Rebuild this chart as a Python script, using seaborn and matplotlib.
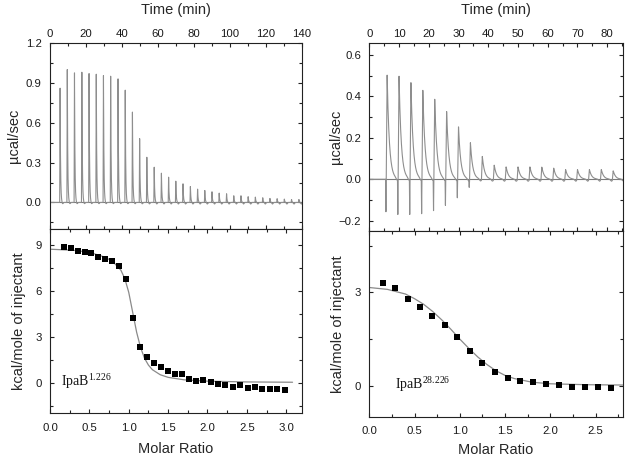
import numpy as np
import pandas as pd
import matplotlib
matplotlib.use("Agg")
import matplotlib.pyplot as plt
from matplotlib.ticker import MultipleLocator
import seaborn as sns

# ---------------- data: left panel (IpaB 1.226) ----------------
left_inj_time = [5.6, 9.6, 13.6, 17.7, 21.7, 25.7, 29.7, 33.7, 37.8, 41.8,
                 45.8, 49.8, 53.8, 57.9, 61.9, 65.9, 69.9, 73.9, 78.0, 82.0,
                 86.0, 90.0, 94.0, 98.1, 102.1, 106.1, 110.1, 114.1, 118.2,
                 122.2, 126.2, 130.2, 134.2, 138.3]
left_peak = [0.86, 1.0, 0.975, 0.98, 0.97, 0.965, 0.955, 0.95, 0.93, 0.845,
             0.68, 0.48, 0.34, 0.265, 0.22, 0.19, 0.16, 0.14, 0.12, 0.10,
             0.09, 0.08, 0.07, 0.065, 0.05, 0.05, 0.043, 0.04, 0.035, 0.03,
             0.028, 0.025, 0.022, 0.022]
left_neg = [0.0] * len(left_peak)

left_ratio = [0.183, 0.264, 0.357, 0.443, 0.523, 0.613, 0.702, 0.787, 0.872,
              0.962, 1.051, 1.14, 1.226, 1.319, 1.409, 1.498, 1.583, 1.677,
              1.766, 1.86, 1.949, 2.043, 2.13, 2.226, 2.32, 2.417, 2.51,
              2.604, 2.698, 2.79, 2.889, 2.987]
left_heat = [8.89, 8.81, 8.61, 8.52, 8.44, 8.20, 8.07, 7.94, 7.61, 6.79,
             4.25, 2.36, 1.65, 1.26, 1.0, 0.76, 0.54, 0.54, 0.24, 0.13,
             0.17, 0.04, -0.09, -0.13, -0.26, -0.17, -0.35, -0.26, -0.43,
             -0.43, -0.43, -0.50]
left_fit_ratio = [0.0, 0.3, 0.5, 0.7, 0.8, 0.9, 0.95, 1.0, 1.05, 1.1, 1.15,
                  1.2, 1.25, 1.3, 1.4, 1.5, 1.7, 2.0, 2.5, 3.08]
left_fit_heat = [8.72, 8.65, 8.52, 8.2, 7.9, 7.35, 6.8, 5.9, 4.6, 3.3, 2.3,
                 1.6, 1.15, 0.85, 0.52, 0.35, 0.19, 0.1, 0.05, 0.03]

# ---------------- data: right panel (IpaB 28.226) ----------------
right_inj_time = [5.6, 9.6, 13.6, 17.6, 21.6, 25.6, 29.6, 33.6, 37.6, 41.6,
                  45.6, 49.6, 53.6, 57.6, 61.6, 65.6, 69.6, 73.6, 77.6, 81.6]
right_peak = [0.503, 0.497, 0.466, 0.429, 0.386, 0.327, 0.253, 0.177, 0.111,
              0.069, 0.061, 0.061, 0.061, 0.06, 0.055, 0.048, 0.048, 0.048,
              0.048, 0.042]
right_neg = [0.157, 0.166, 0.166, 0.162, 0.147, 0.121, 0.084, 0.033, 0.0, 0.0,
             0.0, 0.0, 0.0, 0.0, 0.0, 0.0, 0.0, 0.0, 0.0, 0.0]

right_ratio = [0.147, 0.287, 0.423, 0.556, 0.696, 0.832, 0.968, 1.108, 1.248,
               1.388, 1.528, 1.668, 1.811, 1.951, 2.095, 2.235, 2.378, 2.522,
               2.669]
right_heat = [3.30, 3.14, 2.80, 2.52, 2.24, 1.95, 1.56, 1.13, 0.73, 0.43,
              0.24, 0.16, 0.12, 0.06, 0.01, -0.04, -0.03, -0.03, -0.07]
right_fit_ratio = [0.0, 0.2, 0.4, 0.5, 0.6, 0.7, 0.8, 0.9, 1.0, 1.1, 1.2,
                   1.3, 1.4, 1.5, 1.6, 1.8, 2.0, 2.4, 2.8]
right_fit_heat = [3.16, 3.10, 2.95, 2.80, 2.62, 2.39, 2.12, 1.82, 1.50, 1.20,
                  0.92, 0.68, 0.48, 0.33, 0.23, 0.11, 0.06, 0.03, 0.02]

# ---------------- style ----------------
sns.set_theme(style="ticks")
plt.rcParams["font.family"] = ["Liberation Sans", "DejaVu Sans"]
plt.rcParams["mathtext.fontset"] = "custom"
plt.rcParams["mathtext.rm"] = "Liberation Serif"

TRACE = "#8e8e8e"
ZERO = "#7a7a7a"
SPINE = "#222222"


def trace_frame(times, peaks, negs, t_end, rise, tau, delay, dip):
    """Build the thermogram line from the injection list (peak shape only)."""
    t = np.arange(0.0, t_end, 0.02)
    y = np.zeros_like(t)
    for ti, h, n in zip(times, peaks, negs):
        if n > 0:
            y -= n * np.clip(1 - np.abs(t - ti) / 0.12, 0, None)
        tp = ti + delay
        up = (t >= tp - rise) & (t < tp)
        y[up] += h * (t[up] - (tp - rise)) / rise
        down = t >= tp
        y[down] += h * np.exp(-(t[down] - tp) / tau)
        y -= dip * np.exp(-((t - tp - 4 * tau - 0.4) / 0.45) ** 2)
    return pd.DataFrame({"time": t, "signal": y})


def style_axes(ax, xmaj, xmin, ymaj, ymin):
    ax.xaxis.set_major_locator(MultipleLocator(xmaj))
    ax.xaxis.set_minor_locator(MultipleLocator(xmin))
    ax.yaxis.set_major_locator(MultipleLocator(ymaj))
    ax.yaxis.set_minor_locator(MultipleLocator(ymin))
    ax.tick_params(which="both", direction="in", top=True, bottom=True,
                   left=True, right=True, color=SPINE, width=0.8,
                   labelsize=8.2, labelcolor="#1a1a1a")
    ax.tick_params(which="major", length=3)
    ax.tick_params(which="minor", length=2)
    for s in ax.spines.values():
        s.set_visible(True)
        s.set_color(SPINE)
        s.set_linewidth(0.8)


fig = plt.figure(figsize=(6.29, 4.63), dpi=100)

panels = [
    dict(top=[0.0795, 0.5054, 0.4006, 0.4017], bot=[0.0795, 0.1073, 0.4006, 0.3981],
         times=left_inj_time, peaks=left_peak, negs=left_neg, tmax=140,
         rise=0.22, tau=0.25, delay=0.0, dip=0.012,
         tylim=(-0.2, 1.2), txmaj=20, txmin=10, tymaj=0.3, tymin=0.15,
         ratio=left_ratio, heat=left_heat, fr=left_fit_ratio, fh=left_fit_heat,
         bxlim=(0, 3.2), bylim=(-2.0, 10.04), label=r"IpaB$^{\mathregular{1.226}}$",
         lab_xy=(0.145, -0.22), ylab_top=-0.115, ylab_bot=-0.095, xlab=-0.158),
    dict(top=[0.5871, 0.5011, 0.4029, 0.4054], bot=[0.5871, 0.1000, 0.4029, 0.4011],
         times=right_inj_time, peaks=right_peak, negs=right_neg, tmax=85.2,
         rise=0.3, tau=0.75, delay=0.4, dip=0.01,
         tylim=(-0.25, 0.657), txmaj=10, txmin=5, tymaj=0.2, tymin=0.1,
         ratio=right_ratio, heat=right_heat, fr=right_fit_ratio, fh=right_fit_heat,
         bxlim=(0, 2.8), bylim=(-1.0, 4.98), label=r"IpaB$^{\mathregular{28.226}}$",
         lab_xy=(0.284, -0.096), ylab_top=-0.104, ylab_bot=-0.096, xlab=-0.139),
]

for p in panels:
    # ---- thermogram ----
    axt = fig.add_axes(p["top"])
    df = trace_frame(p["times"], p["peaks"], p["negs"], p["tmax"],
                     p["rise"], p["tau"], p["delay"], p["dip"])
    axt.axhline(0, color=ZERO, lw=0.8, zorder=1)
    sns.lineplot(data=df, x="time", y="signal", ax=axt, color=TRACE,
                 lw=0.8, estimator=None, sort=False, zorder=2)
    axt.set_xlim(0, p["tmax"])
    axt.set_ylim(*p["tylim"])
    style_axes(axt, p["txmaj"], p["txmin"], p["tymaj"], p["tymin"])
    axt.xaxis.set_label_position("top")
    axt.tick_params(axis="x", which="both", labeltop=True, labelbottom=False, pad=3)
    axt.tick_params(axis="y", pad=6)
    axt.set_xlabel("Time (min)", fontsize=10.5)
    axt.xaxis.set_label_coords(0.5, 1.156)
    axt.set_ylabel("µcal/sec", fontsize=10.5)
    axt.yaxis.set_label_coords(p["ylab_top"], 0.5)

    # ---- binding isotherm ----
    axb = fig.add_axes(p["bot"])
    fit = pd.DataFrame({"ratio": p["fr"], "heat": p["fh"]})
    pts = pd.DataFrame({"ratio": p["ratio"], "heat": p["heat"]})
    sns.lineplot(data=fit, x="ratio", y="heat", ax=axb, color="#8a8a8a",
                 lw=0.9, estimator=None, sort=False, zorder=2)
    sns.scatterplot(data=pts, x="ratio", y="heat", ax=axb, marker="s",
                    s=24, color="black", edgecolor="black", linewidth=0,
                    zorder=3)
    axb.set_xlim(*p["bxlim"])
    axb.set_ylim(*p["bylim"])
    style_axes(axb, 0.5, 0.25, 3, 1.5)
    axb.tick_params(axis="x", which="both", labeltop=False, labelbottom=True, pad=7)
    axb.tick_params(axis="y", pad=6)
    axb.set_xlabel("Molar Ratio", fontsize=10.5)
    axb.xaxis.set_label_coords(0.5, p["xlab"])
    axb.set_ylabel("kcal/mole of injectant", fontsize=10.5)
    axb.yaxis.set_label_coords(p["ylab_bot"], 0.5)
    axb.text(p["lab_xy"][0], p["lab_xy"][1], p["label"],
             fontfamily="Liberation Serif", fontsize=10, color="#111111",
             va="baseline", ha="left")

fig.savefig("out.png", dpi=100)
